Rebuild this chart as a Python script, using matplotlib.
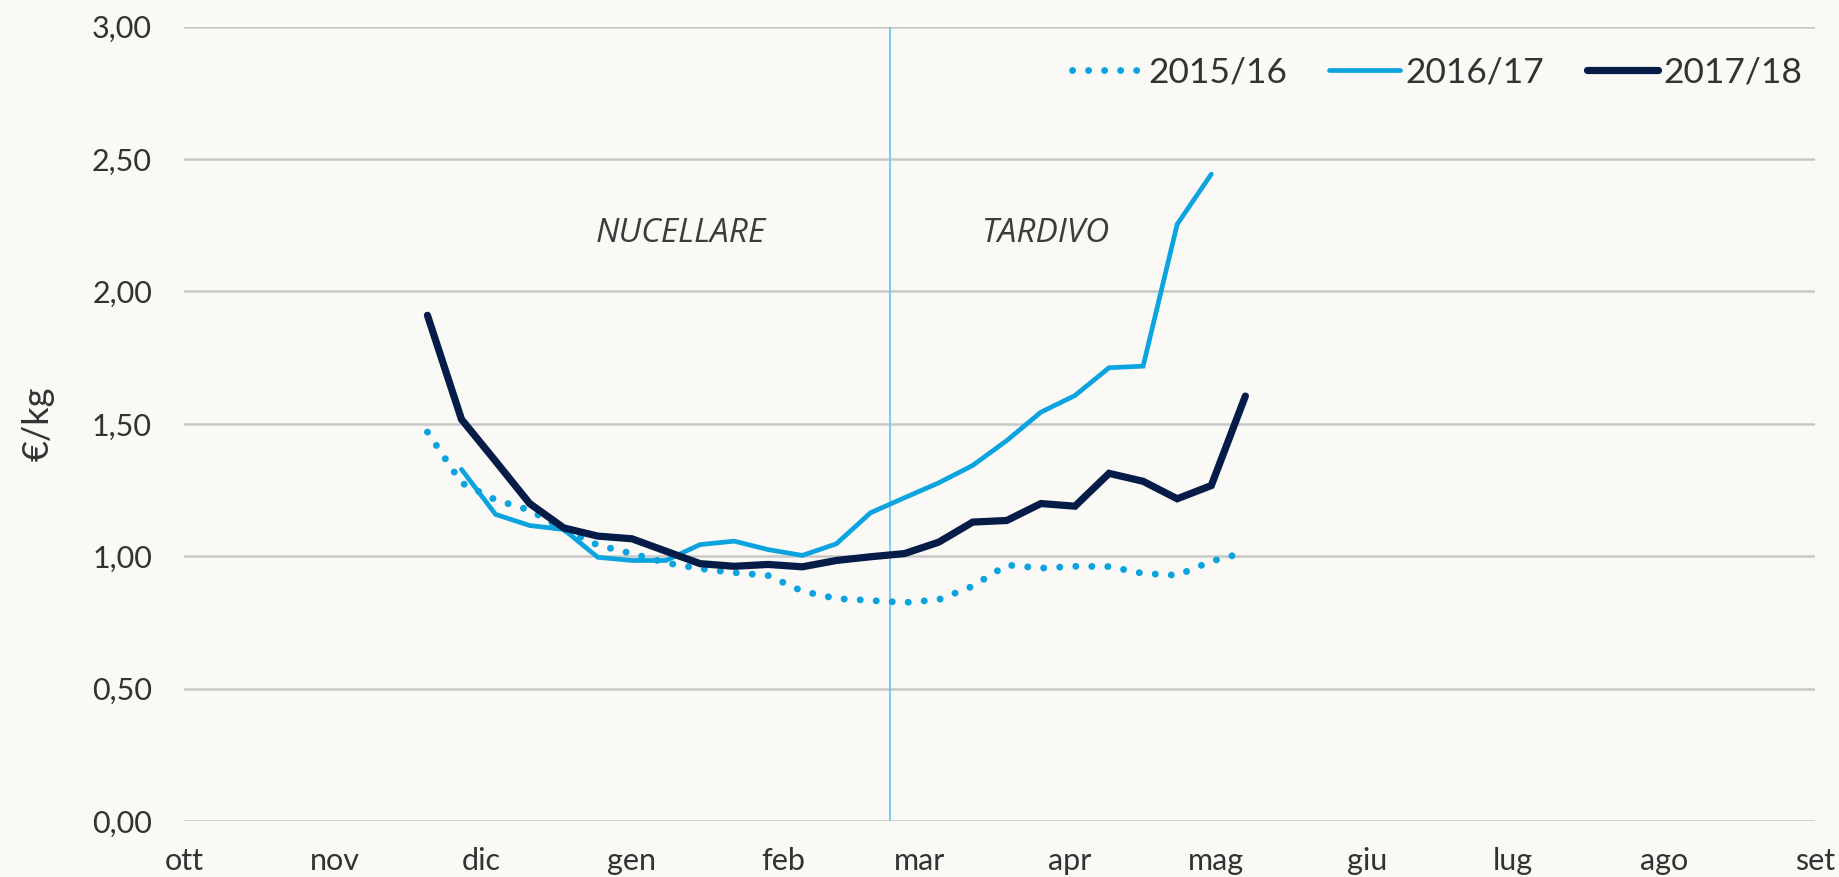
import numpy as np
import pandas as pd
import matplotlib
import matplotlib.pyplot as plt

matplotlib.use("Agg")

# weekly prices, €/kg, all seasons mapped onto the same oct->sep axis
start_1516 = "2017-11-20"
price_1516 = [1.469, 1.277, 1.213, 1.174, 1.101, 1.042, 1.010, 0.975, 0.953, 0.938,
              0.927, 0.868, 0.840, 0.833, 0.825, 0.836, 0.887, 0.967, 0.955, 0.962,
              0.961, 0.935, 0.928, 0.981, 1.015]

start_1617 = "2017-11-27"
price_1617 = [1.328, 1.158, 1.116, 1.101, 0.996, 0.984, 0.984, 1.044, 1.057, 1.025,
              1.003, 1.047, 1.164, 1.221, 1.277, 1.343, 1.437, 1.544, 1.607, 1.712,
              1.718, 2.254, 2.443]

start_1718 = "2017-11-20"
price_1718 = [1.910, 1.517, 1.359, 1.199, 1.107, 1.076, 1.066, 1.019, 0.972, 0.962,
              0.969, 0.960, 0.984, 0.998, 1.010, 1.053, 1.129, 1.135, 1.199, 1.189,
              1.313, 1.283, 1.217, 1.267, 1.605]

month_labels = ["ott", "nov", "dic", "gen", "feb", "mar", "apr", "mag", "giu", "lug", "ago", "set"]
split_date = "2018-02-23"

bg = "#faf9f5"
light_blue = "#0ba3e0"
navy = "#061c48"
txt = "#333333"

plt.rcParams["font.family"] = ["Lato", "DejaVu Sans"]

fig = plt.figure(figsize=(18.39, 8.77), dpi=100, facecolor=bg)
ax = fig.add_axes([184 / 1839, 1 - 821 / 877, (1815 - 184) / 1839, (821 - 26.7) / 877])
ax.set_facecolor(bg)

x1516 = pd.date_range(start_1516, periods=len(price_1516), freq="7D")
x1617 = pd.date_range(start_1617, periods=len(price_1617), freq="7D")
x1718 = pd.date_range(start_1718, periods=len(price_1718), freq="7D")

ax.plot(x1516, price_1516, color=light_blue, lw=5.0, linestyle=(0, (0.01, 2.3)),
        dash_capstyle="round", solid_capstyle="round", label="2015/16", zorder=3)
ax.plot(x1617, price_1617, color=light_blue, lw=3.4, solid_capstyle="round",
        solid_joinstyle="miter", label="2016/17", zorder=4)
ax.plot(x1718, price_1718, color=navy, lw=5.2, solid_capstyle="round",
        solid_joinstyle="miter", label="2017/18", zorder=5)

ax.axvline(pd.Timestamp(split_date), color="#74c7ee", lw=1.3, zorder=2)

months = pd.date_range("2017-10-01", "2018-09-01", freq="MS")
ax.set_xlim(months[0], months[-1])
ax.set_xticks(months)
ax.set_xticklabels(month_labels)
ax.set_ylim(0, 3)
yt = np.arange(0, 3.01, 0.5)
ax.set_yticks(yt)
ax.set_yticklabels([f"{v:.2f}".replace(".", ",") for v in yt])

ax.tick_params(axis="both", length=0, labelsize=22, colors=txt)
ax.tick_params(axis="x", pad=19)
ax.tick_params(axis="y", pad=23)
for s in ax.spines.values():
    s.set_visible(False)
ax.grid(axis="y", color="#c8c8c8", lw=1.8)
ax.set_axisbelow(True)

ax.set_ylabel("€/kg", fontsize=26, color=txt, labelpad=27)

ax.text(pd.Timestamp("2018-01-11"), 2.22, "NUCELLARE", fontsize=24, style="italic",
        family="Open Sans", color="#3c3c3c", ha="center", va="center")
ax.text(pd.Timestamp("2018-03-27"), 2.22, "TARDIVO", fontsize=24, style="italic",
        family="Open Sans", color="#3c3c3c", ha="center", va="center")

leg = fig.legend(loc="center right", bbox_to_anchor=(1802 / 1839, 1 - 72 / 877), ncol=3,
                 frameon=False, fontsize=25.5, handlelength=2.0, handletextpad=0.15,
                 columnspacing=1.2, borderpad=0, borderaxespad=0)
for t in leg.get_texts():
    t.set_color(txt)

fig.savefig("out.png", dpi=100, facecolor=bg)
